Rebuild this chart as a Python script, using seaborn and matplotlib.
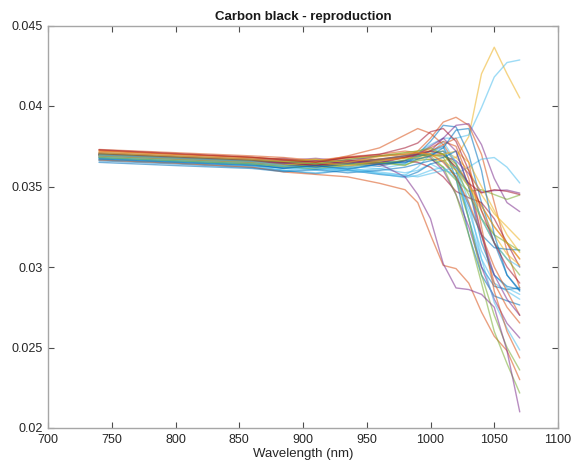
import numpy as np
import pandas as pd
import matplotlib
matplotlib.use("Agg")
import matplotlib.pyplot as plt
import seaborn as sns

# Wavelength knots (nm)
wavelength = [740, 800, 860, 885, 910, 935, 960, 980, 990, 1000, 1010, 1020, 1030, 1040, 1050, 1060, 1070]

# Reflectance curves (units of 1e-5)
c01 = [3712, 3690, 3672, 3655, 3640, 3662, 3670, 3678, 3672, 3668, 3660, 3680, 3810, 4200, 4365, 4200, 4050]
c02 = [3700, 3680, 3660, 3630, 3648, 3640, 3665, 3690, 3710, 3760, 3800, 3800, 3820, 3990, 4180, 4270, 4286]
c03 = [3725, 3700, 3680, 3668, 3650, 3690, 3740, 3820, 3860, 3830, 3760, 3640, 3520, 3380, 3250, 3150, 3050]
c04 = [3690, 3670, 3645, 3620, 3638, 3625, 3660, 3680, 3720, 3800, 3900, 3930, 3880, 3700, 3400, 3100, 2870]
c05 = [3680, 3660, 3640, 3612, 3628, 3640, 3625, 3660, 3700, 3780, 3880, 3870, 3700, 3400, 3150, 2950, 2857]
c06 = [3705, 3685, 3668, 3675, 3652, 3680, 3665, 3690, 3700, 3720, 3800, 3880, 3890, 3760, 3550, 3400, 3344]
c07 = [3695, 3675, 3655, 3662, 3640, 3668, 3645, 3680, 3690, 3700, 3690, 3660, 3580, 3465, 3475, 3478, 3459]
c08 = [3690, 3670, 3650, 3628, 3645, 3620, 3650, 3635, 3660, 3670, 3620, 3540, 3470, 3480, 3450, 3420, 3447]
c09 = [3670, 3650, 3630, 3600, 3618, 3595, 3610, 3585, 3600, 3640, 3600, 3580, 3620, 3670, 3680, 3620, 3522]
c10 = [3690, 3670, 3650, 3635, 3620, 3650, 3635, 3660, 3650, 3620, 3560, 3470, 3430, 3400, 3300, 3150, 3000]
c11 = [3700, 3680, 3660, 3645, 3660, 3640, 3670, 3690, 3700, 3710, 3720, 3680, 3600, 3450, 3330, 3250, 3168]
c12 = [3660, 3640, 3618, 3598, 3580, 3602, 3575, 3560, 3590, 3640, 3660, 3560, 3380, 3200, 3120, 3110, 3106]
c13 = [3720, 3700, 3680, 3665, 3650, 3675, 3690, 3710, 3720, 3730, 3700, 3620, 3500, 3350, 3200, 3080, 3012]
c14 = [3690, 3670, 3650, 3638, 3618, 3640, 3660, 3645, 3690, 3700, 3720, 3600, 3300, 3000, 2880, 2860, 2870]
c15 = [3675, 3655, 3635, 3612, 3630, 3605, 3640, 3660, 3680, 3720, 3750, 3550, 3200, 2950, 2820, 2790, 2764]
c16 = [3665, 3645, 3625, 3600, 3585, 3610, 3590, 3570, 3620, 3700, 3780, 3650, 3300, 3050, 2900, 2850, 2800]
c17 = [3680, 3660, 3640, 3625, 3605, 3620, 3580, 3555, 3570, 3600, 3620, 3550, 3350, 3100, 2950, 2870, 2830]
c18 = [3700, 3680, 3660, 3648, 3630, 3655, 3665, 3680, 3700, 3740, 3780, 3750, 3550, 3200, 2900, 2750, 2652]
c19 = [3710, 3690, 3670, 3660, 3675, 3655, 3690, 3700, 3705, 3680, 3600, 3450, 3250, 3000, 2800, 2650, 2559]
c20 = [3685, 3665, 3645, 3618, 3600, 3625, 3610, 3640, 3690, 3720, 3740, 3650, 3400, 3050, 2780, 2620, 2484]
c21 = [3720, 3700, 3680, 3670, 3655, 3680, 3690, 3700, 3710, 3720, 3760, 3800, 3650, 3250, 2850, 2600, 2435]
c22 = [3695, 3675, 3655, 3640, 3625, 3650, 3640, 3665, 3690, 3700, 3680, 3550, 3300, 2950, 2700, 2500, 2360]
c23 = [3665, 3645, 3620, 3590, 3575, 3560, 3520, 3480, 3400, 3200, 3010, 2990, 2900, 2720, 2570, 2480, 2300]
c24 = [3705, 3685, 3665, 3650, 3668, 3645, 3670, 3690, 3700, 3690, 3620, 3450, 3200, 2900, 2600, 2400, 2217]
c25 = [3700, 3680, 3660, 3648, 3630, 3655, 3640, 3560, 3450, 3300, 3020, 2870, 2860, 2830, 2750, 2480, 2100]
c26 = [3700, 3680, 3660, 3650, 3632, 3660, 3650, 3680, 3700, 3720, 3700, 3620, 3520, 3460, 3480, 3470, 3450]
c27 = [3680, 3660, 3640, 3625, 3610, 3635, 3650, 3630, 3670, 3690, 3700, 3640, 3500, 3300, 3150, 3050, 2950]
c28 = [3690, 3670, 3650, 3635, 3652, 3630, 3660, 3675, 3680, 3690, 3700, 3720, 3650, 3500, 3350, 3200, 3090]
c29 = [3650, 3630, 3612, 3592, 3605, 3585, 3600, 3620, 3640, 3660, 3680, 3720, 3500, 3150, 2950, 2880, 2860]
c30 = [3730, 3710, 3690, 3680, 3662, 3685, 3700, 3720, 3710, 3700, 3650, 3560, 3400, 3200, 3000, 2850, 2700]
c31 = [3700, 3680, 3660, 3642, 3660, 3645, 3670, 3690, 3700, 3750, 3800, 3720, 3500, 3200, 2950, 2800, 2700]
c32 = [3700, 3680, 3660, 3655, 3640, 3668, 3690, 3710, 3720, 3740, 3700, 3600, 3450, 3300, 3200, 3150, 3100]
c33 = [3695, 3675, 3655, 3630, 3615, 3600, 3580, 3570, 3560, 3580, 3600, 3620, 3500, 3300, 3150, 3050, 3000]
c34 = [3670, 3650, 3630, 3615, 3630, 3610, 3640, 3650, 3670, 3690, 3740, 3850, 3860, 3600, 3200, 2950, 2850]
c35 = [3710, 3690, 3670, 3658, 3670, 3650, 3685, 3700, 3710, 3700, 3660, 3600, 3500, 3380, 3250, 3150, 3050]
c36 = [3728, 3705, 3682, 3665, 3650, 3680, 3700, 3740, 3770, 3840, 3860, 3780, 3600, 3350, 3150, 3000, 2900]

curves = [c01, c02, c03, c04, c05, c06, c07, c08, c09, c10, c11, c12,
          c13, c14, c15, c16, c17, c18, c19, c20, c21, c22, c23, c24,
          c25, c26, c27, c28, c29, c30, c31, c32, c33, c34, c35, c36]

x_ticks = [700, 750, 800, 850, 900, 950, 1000, 1050, 1100]
y_ticks = [0.02, 0.025, 0.03, 0.035, 0.04, 0.045]
y_tick_labels = ["0.02", "0.025", "0.03", "0.035", "0.04", "0.045"]

# MATLAB default colour order
B, R, Y, P, G, C, M = "#0072BD", "#D95319", "#EDB120", "#7E2F8E", "#77AC30", "#4DBEEE", "#A2142F"
curve_colors = [Y, C, R, R, B, P, P, G, C, M, Y, B,
                Y, B, B, C, C, R, P, C, R, G, R, G,
                P, M, G, Y, B, R, P, G, C, B, Y, M]

rows = []
for i, vals in enumerate(curves):
    for w, v in zip(wavelength, vals):
        rows.append({"curve": f"s{i:02d}", "wavelength": w, "value": v * 1e-5})
df = pd.DataFrame(rows)

sns.set_theme(style="white")
plt.rcParams["font.family"] = ["Liberation Sans", "DejaVu Sans"]

fig = plt.figure(figsize=(5.71, 4.63), dpi=100)
ax = fig.add_axes([48 / 571, 1 - 428 / 463, 510 / 571, 402.5 / 463])

palette = {f"s{i:02d}": c for i, c in enumerate(curve_colors)}
sns.lineplot(data=df, x="wavelength", y="value", hue="curve", palette=palette,
             estimator=None, legend=False, linewidth=1.0, alpha=0.55, ax=ax)

ax.set_xlim(700, 1100)
ax.set_ylim(0.02, 0.045)
ax.set_xticks(x_ticks)
ax.set_xticklabels([str(t) for t in x_ticks])
ax.set_yticks(y_ticks)
ax.set_yticklabels(y_tick_labels)
ax.tick_params(direction="in", length=4, width=0.8, color="#4d4d4d",
               labelsize=9, labelcolor="#262626", top=True, right=True,
               bottom=True, left=True, pad=4)
for sp in ax.spines.values():
    sp.set_color("#a6a6a6")
    sp.set_linewidth(1.0)
ax.set_xlabel("Wavelength (nm)", fontsize=9.5, color="#262626", labelpad=2)
ax.set_ylabel("")
ax.set_title("Carbon black - reproduction", fontsize=9.5, fontweight="bold",
             color="#1a1a1a", pad=4)

fig.savefig("out.png", dpi=100)
